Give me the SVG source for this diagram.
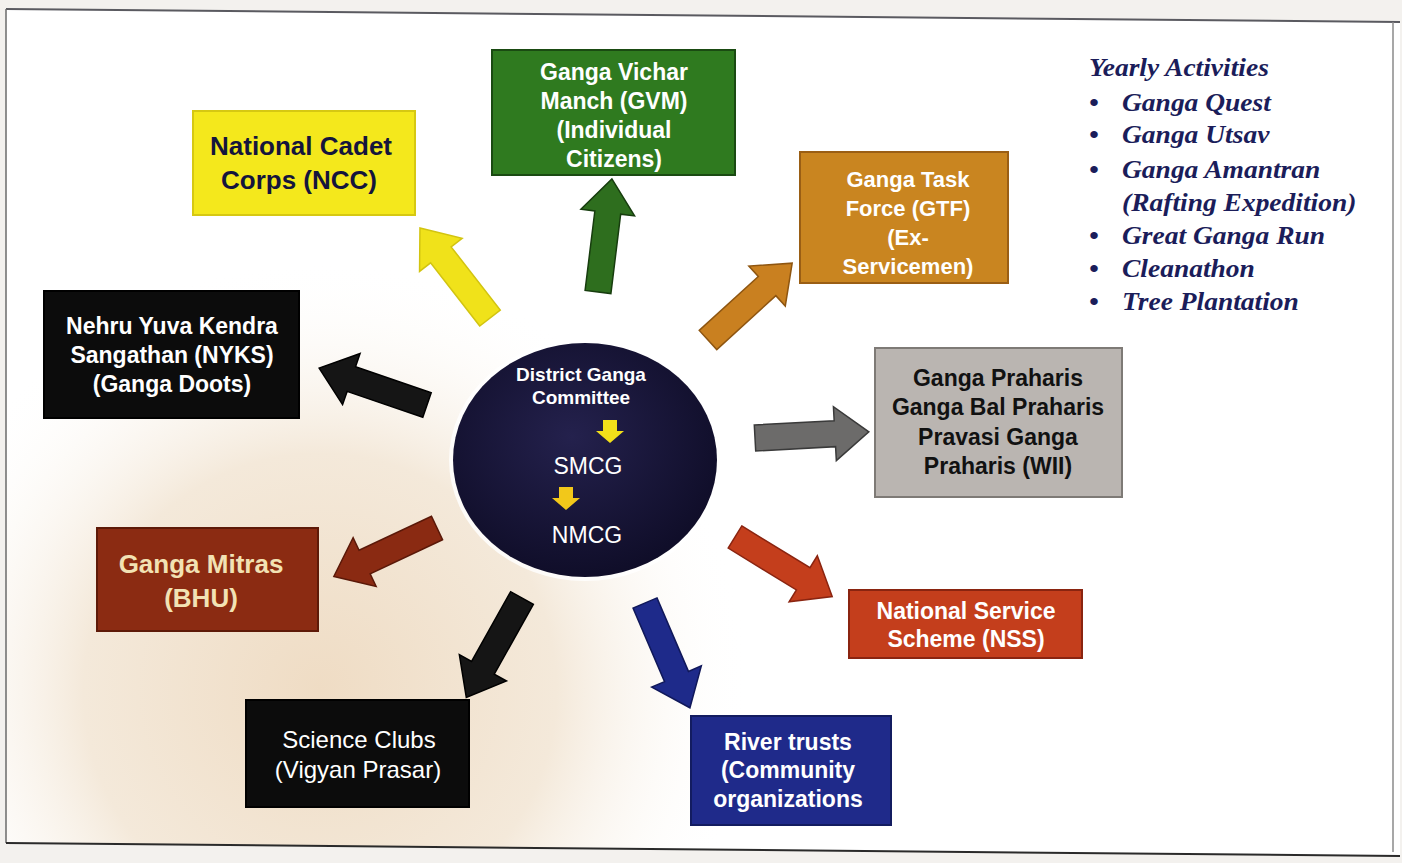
<svg xmlns="http://www.w3.org/2000/svg" width="1402" height="863" viewBox="0 0 1402 863">
<defs>
<radialGradient id="warm" cx="320" cy="690" r="430" gradientUnits="userSpaceOnUse">
<stop offset="0" stop-color="#efdcc4"/>
<stop offset="0.55" stop-color="#f4e9da"/>
<stop offset="1" stop-color="#ffffff" stop-opacity="0"/>
</radialGradient>
<radialGradient id="hub" cx="0.45" cy="0.4" r="0.65">
<stop offset="0" stop-color="#24214d"/>
<stop offset="1" stop-color="#0e0c26"/>
</radialGradient>
<path id="arr" d="M0,-13 L80,-13 L80,-27 L114,0 L80,27 L80,13 L0,13 Z"/>
<path id="mini" d="M-7,-11 L7,-11 L7,0 L14,0 L0,12 L-14,0 L-7,0 Z"/>
<style>
.bx{stroke-width:2}
.t{font-family:"Liberation Sans",Arial,sans-serif;font-weight:bold;text-anchor:middle}
.r{font-family:"Liberation Sans",Arial,sans-serif;text-anchor:middle}
.w{fill:#ffffff}
.k{fill:#111111}
.a{stroke-width:1.5;stroke-linejoin:miter}
.it{font-family:"Liberation Serif","Times New Roman",serif;font-weight:bold;font-style:italic;fill:#1b1d5a;font-size:25px}
</style>
</defs>
<rect x="0" y="0" width="1402" height="863" fill="#f3f1ee"/>
<polygon points="6,9 1400,22 1400,856 6,843" fill="#ffffff"/>
<polygon points="6,9 1400,22 1400,856 6,843" fill="url(#warm)"/>
<polyline points="6,9 1400,22" fill="none" stroke="#5a5a60" stroke-width="2"/>
<line x1="6" y1="9" x2="6" y2="843" stroke="#6a6a6a" stroke-width="1.5"/>
<line x1="1393" y1="22" x2="1393" y2="852" stroke="#8a8a8a" stroke-width="1.5"/>
<line x1="6" y1="843" x2="1400" y2="856" stroke="#2a2a2a" stroke-width="2"/>

<g id="connectors">
<use href="#arr" class="a" transform="translate(490,318) rotate(-127.9)" fill="#f0e21a" stroke="#d2c410"/>
<use href="#arr" class="a" transform="translate(598,292) rotate(-83)" fill="#2e6e1e" stroke="#173d0e"/>
<use href="#arr" class="a" transform="translate(708,340) rotate(-42.4)" fill="#c98020" stroke="#8e5510"/>
<use href="#arr" class="a" transform="translate(755,438) rotate(-3.1)" fill="#6c6b6a" stroke="#3a3a3a"/>
<use href="#arr" class="a" transform="translate(427,405) rotate(-161.1)" fill="#151515" stroke="#000000"/>
<use href="#arr" class="a" transform="translate(437,528) rotate(154.8)" fill="#8a2a12" stroke="#5a1808"/>
<use href="#arr" class="a" transform="translate(522,598) rotate(119.25)" fill="#151515" stroke="#000000"/>
<use href="#arr" class="a" transform="translate(645,603) rotate(66.8)" fill="#1e2a8a" stroke="#10185a"/>
<use href="#arr" class="a" transform="translate(735,537) rotate(31.5)" fill="#c43e1c" stroke="#8a2410"/>
</g>

<g id="hub-node">
<ellipse cx="585" cy="460" rx="136" ry="121" fill="#ffffff" opacity="0.8"/>
<ellipse cx="585" cy="460" rx="132" ry="117" fill="url(#hub)"/>
<text class="t w" x="581" y="381" font-size="19">District Ganga</text>
<text class="t w" x="581" y="404" font-size="19">Committee</text>
<use href="#mini" transform="translate(610,431)" fill="#f2e01a"/>
<text class="r w" x="588" y="474" font-size="23">SMCG</text>
<use href="#mini" transform="translate(566,498)" fill="#f2c81a"/>
<text class="r w" x="587" y="543" font-size="23">NMCG</text>
</g>

<g id="ncc">
<rect class="bx" x="193" y="111" width="222" height="104" fill="#f4e81c" stroke="#d6c812"/>
<text class="t" x="301" y="155" font-size="26" fill="#14143c">National Cadet</text>
<text class="t" x="299" y="189" font-size="26" fill="#14143c">Corps (NCC)</text>
</g>

<g id="gvm">
<rect class="bx" x="492" y="50" width="243" height="125" fill="#2f7a1f" stroke="#1a4a12"/>
<text class="t w" x="614" y="80" font-size="23">Ganga Vichar</text>
<text class="t w" x="614" y="109" font-size="23">Manch (GVM)</text>
<text class="t w" x="614" y="138" font-size="23">(Individual</text>
<text class="t w" x="614" y="167" font-size="23">Citizens)</text>
</g>

<g id="gtf">
<rect class="bx" x="800" y="152" width="208" height="131" fill="#c98520" stroke="#9a5e14"/>
<text class="t w" x="908" y="187" font-size="22">Ganga Task</text>
<text class="t w" x="908" y="216" font-size="22">Force (GTF)</text>
<text class="t w" x="908" y="245" font-size="22">(Ex-</text>
<text class="t w" x="908" y="274" font-size="22">Servicemen)</text>
</g>

<g id="praharis">
<rect class="bx" x="875" y="348" width="247" height="149" fill="#bab5b1" stroke="#7e7a76"/>
<text class="t k" x="998" y="386" font-size="23">Ganga Praharis</text>
<text class="t k" x="998" y="415" font-size="23">Ganga Bal Praharis</text>
<text class="t k" x="998" y="445" font-size="23">Pravasi Ganga</text>
<text class="t k" x="998" y="474" font-size="23">Praharis (WII)</text>
</g>

<g id="nss">
<rect class="bx" x="849" y="590" width="233" height="68" fill="#c43e1c" stroke="#8a2410"/>
<text class="t w" x="966" y="619" font-size="23">National Service</text>
<text class="t w" x="966" y="647" font-size="23">Scheme (NSS)</text>
</g>

<g id="river">
<rect class="bx" x="691" y="716" width="200" height="109" fill="#1f2a8a" stroke="#131c60"/>
<text class="t w" x="788" y="750" font-size="23">River trusts</text>
<text class="t w" x="788" y="778" font-size="23">(Community</text>
<text class="t w" x="788" y="807" font-size="23">organizations</text>
</g>

<g id="science">
<rect class="bx" x="246" y="700" width="223" height="107" fill="#0c0c0c" stroke="#000000"/>
<text class="r w" x="359" y="748" font-size="24">Science Clubs</text>
<text class="r w" x="358" y="778" font-size="24">(Vigyan Prasar)</text>
</g>

<g id="mitras">
<rect class="bx" x="97" y="528" width="221" height="103" fill="#8b2b12" stroke="#5e1a08"/>
<text class="t" x="201" y="573" font-size="26" fill="#f2e2b4">Ganga Mitras</text>
<text class="t" x="201" y="607" font-size="26" fill="#f2e2b4">(BHU)</text>
</g>

<g id="nyks">
<rect class="bx" x="44" y="291" width="255" height="127" fill="#0c0c0c" stroke="#000000"/>
<text class="t w" x="172" y="334" font-size="23">Nehru Yuva Kendra</text>
<text class="t w" x="172" y="363" font-size="23">Sangathan (NYKS)</text>
<text class="t w" x="172" y="392" font-size="23">(Ganga Doots)</text>
</g>

<g id="yearly" transform="translate(1089,0) scale(1.1,1) translate(-1089,0)">
<text class="it" x="1089" y="76" font-size="29">Yearly Activities</text>
<text class="it" x="1089" y="111">•</text><text class="it" x="1119" y="111">Ganga Quest</text>
<text class="it" x="1089" y="143">•</text><text class="it" x="1119" y="143">Ganga Utsav</text>
<text class="it" x="1089" y="178">•</text><text class="it" x="1119" y="178">Ganga Amantran</text>
<text class="it" x="1119" y="211">(Rafting Expedition)</text>
<text class="it" x="1089" y="244">•</text><text class="it" x="1119" y="244">Great Ganga Run</text>
<text class="it" x="1089" y="277">•</text><text class="it" x="1119" y="277">Cleanathon</text>
<text class="it" x="1089" y="310">•</text><text class="it" x="1119" y="310">Tree Plantation</text>
</g>
</svg>
